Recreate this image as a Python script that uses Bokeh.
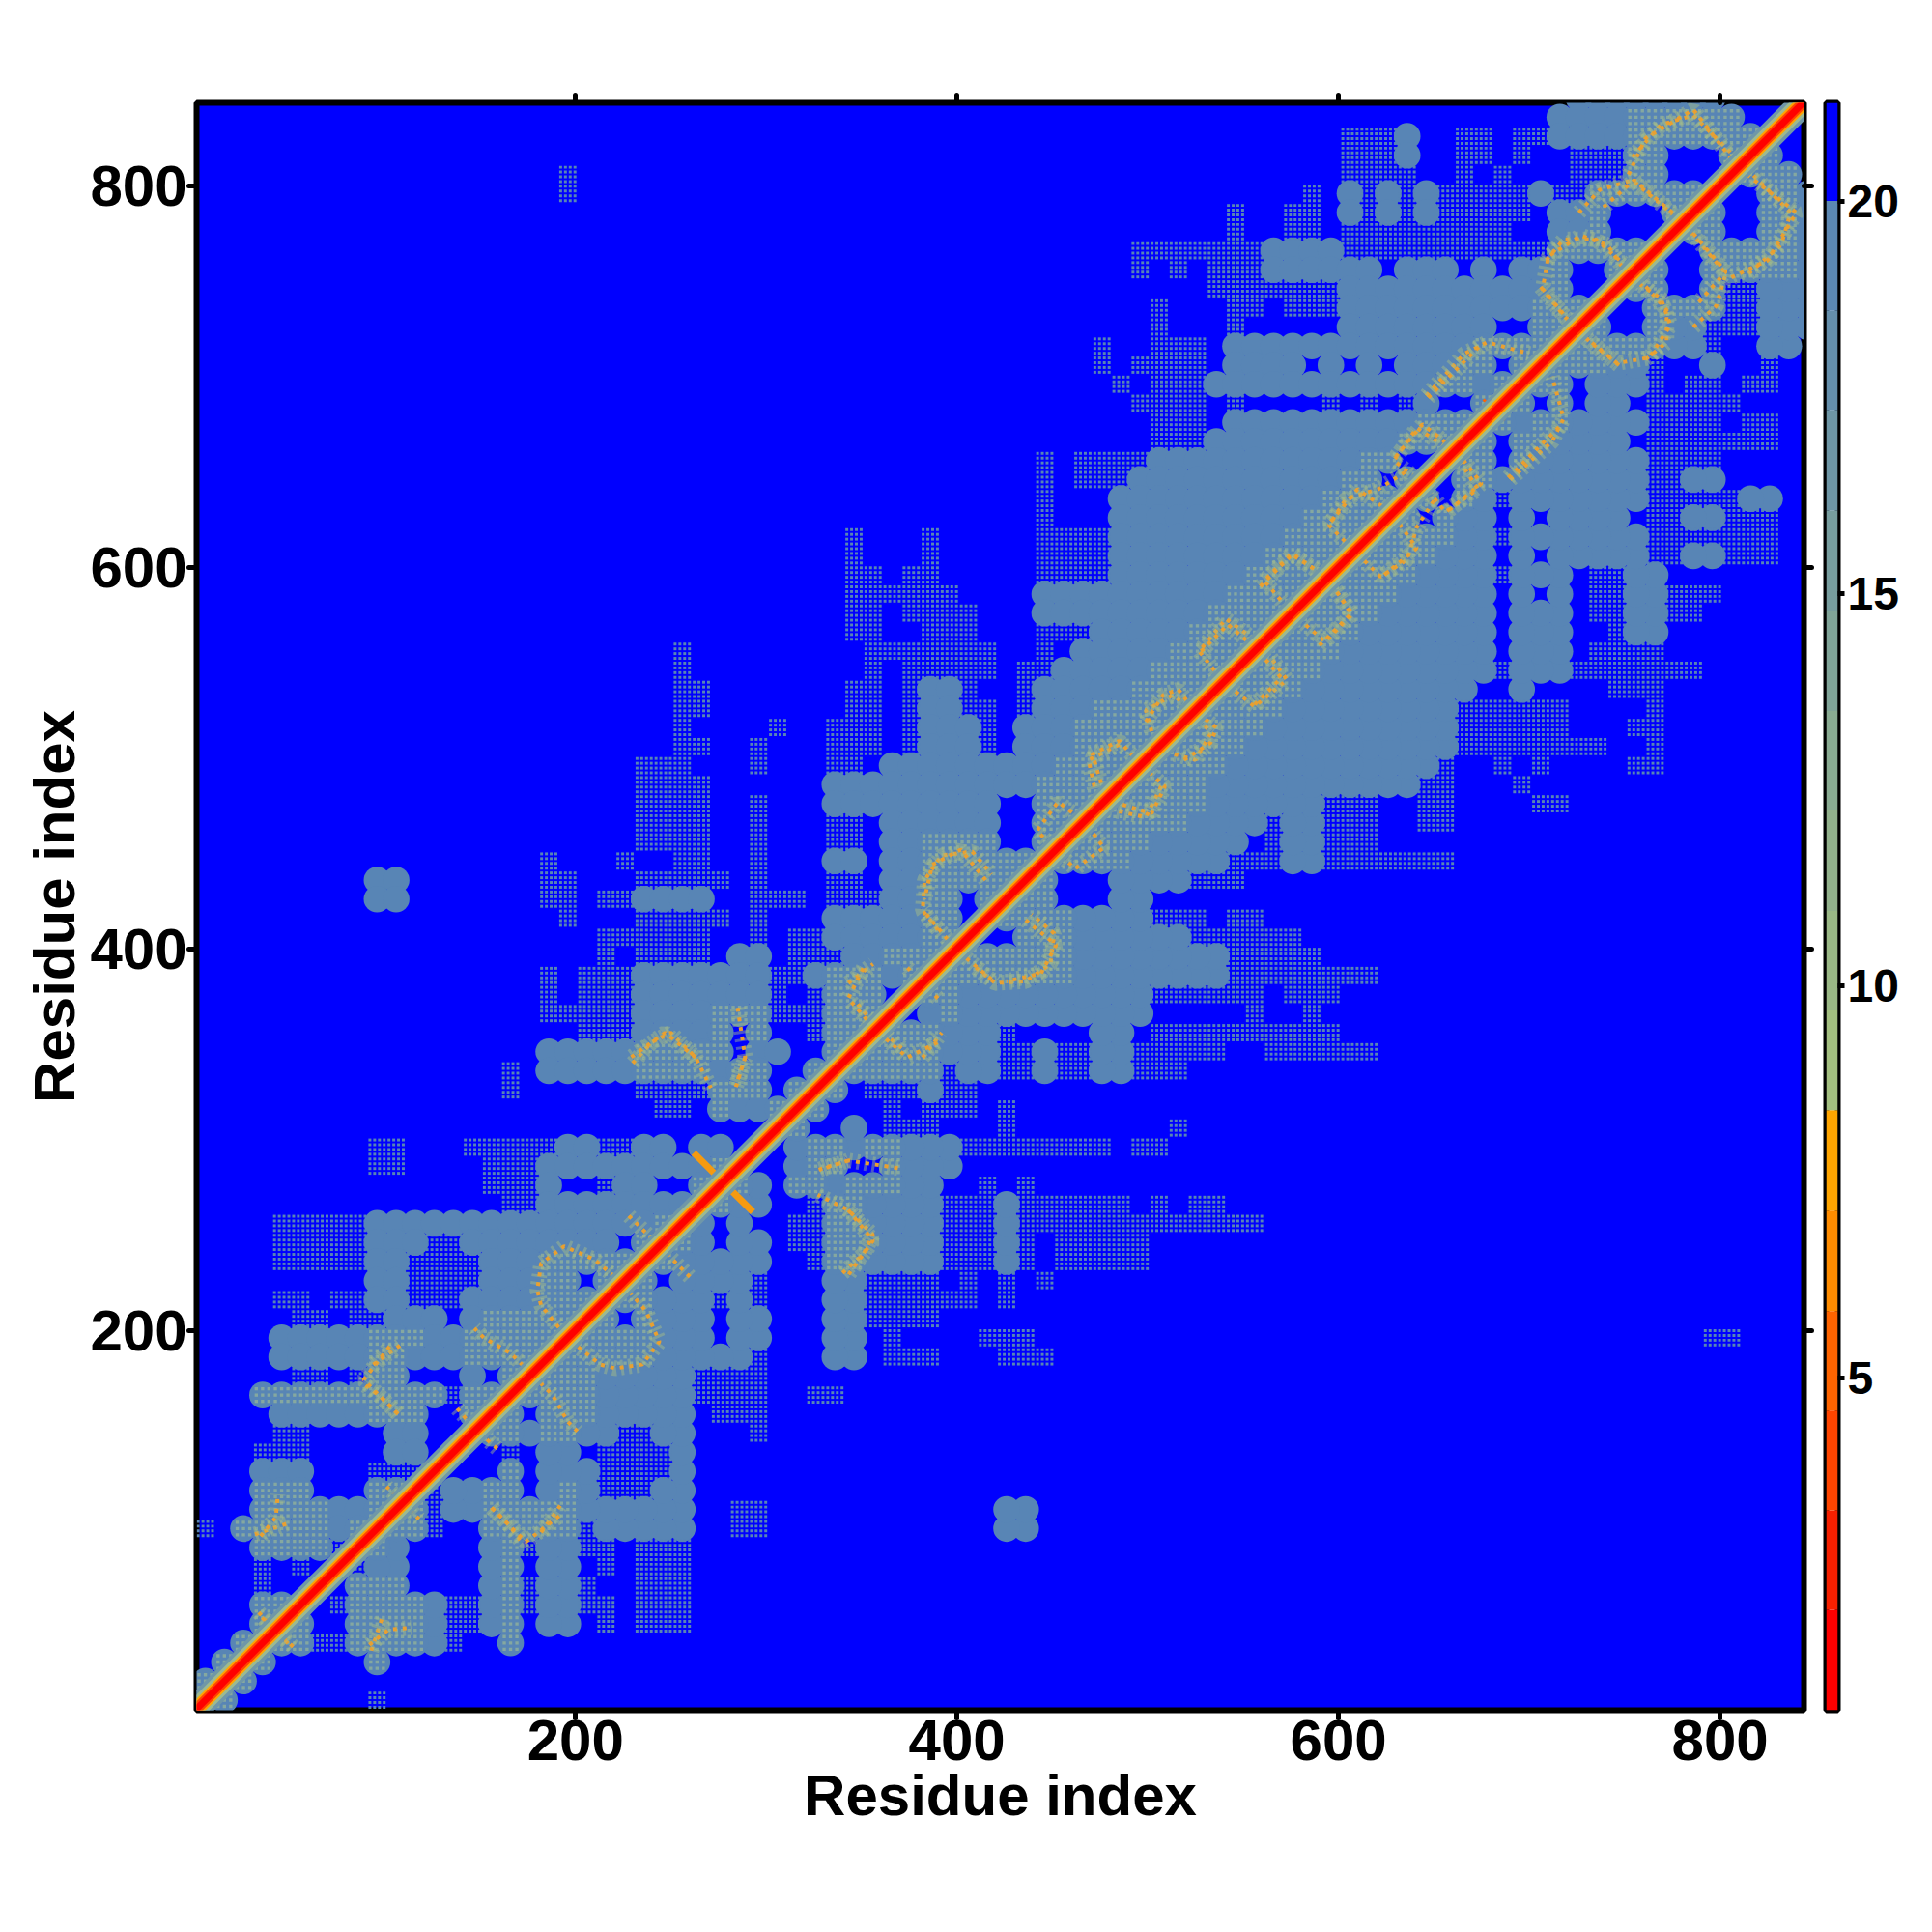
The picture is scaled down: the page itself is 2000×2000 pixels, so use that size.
from bokeh.plotting import figure
from bokeh.layouts import row
from bokeh.models import FixedTicker, LinearAxis, Range1d
from bokeh.embed import file_html
from bokeh.resources import INLINE

# contact map, upper-left triangle (row = y/10, col = x/10)
# s = below 20, d = partly below 20 (speckle), g = below about 14 (lattice)
contact_rows = {
84: "72-79s", 83: "71-74s 75-80g", 82: "60d 61-62d 63s 66-67d 69-70d 71-74s 75-81g",
81: "60d 61-62d 63s 66-67d 69d 72-74d 75-76g 80-81g",
80: "19d 60d 61-62d 63d 66d 68d 72-74d 75-76g 80g",
79: "19d 58d 60s 61d 62s 63d 64s 65-69d 70s 71-72d 73-79g",
78: "54d 57-58d 60s 61d 62s 63d 64s 65-69d 71-72s 73g 77-78g",
77: "54d 57-58d 60-64d 65-68d 71-72s 73g 77g",
76: "49-50d 51-52d 53-55d 56-59s 60-61d 62d 63-64d 65-67d 68-70d 71-76g",
75: "49d 51d 53-55d 56-61s 63-65s 67s 69-70s 71g 74-75g",
74: "53-55d 56-60d 60-61s 62-70s 71g 74g",
73: "50d 54-55d 57-59d 60-69s 70-73g",
72: "50d 54d 60-61s 62-67s 70-72g",
71: "47d 50-52d 54-70s 67-70g",
70: "47d 49d 50-52d 54-57s 59s 61s 63-65s 66-67g 69-70g",
69: "48d 50-52d 53-64s 65-66g 67s 68-69g",
68: "49-52d 54d 59d 61d 63d 64s 67-68g",
67: "50-52d 54-63s 64-67g",
66: "50-52d 53-62s 63-66g",
65: "44d 46-47d 48-49d 50-60s 61-62g 65g",
64: "44d 46-47d 48-49d 49-59s 60-61g 63-64g",
63: "44d 48-58s 59-63g",
62: "44d 48-57s 58-62g",
61: "34d 38d 44-45d 46-47d 48-56s 57-61g",
60: "34d 38d 44-45d 46-47d 48-55s 56-60g",
59: "34-35d 37-38d 44-45d 46-47d 48-54s 55-59g",
58: "34-35d 36-39d 44-45s 46-53s 54-58g",
57: "34-35d 37-40d 44-45s 46-52s 53-57g",
56: "34-35d 38-40d 44-45d 46-47d 47-51s 52-56g",
55: "25d 35-36d 37-41d 44d 46-50s 51-55g",
54: "25d 35d 37-41d 43-44d 45-49s 50-54g",
53: "25-26d 34-35d 37d 38-39s 40d 43-44d 44-48s 49-53g",
52: "25-26d 34-35d 37d 38-39s 40-41d 43-44d 44-46s 47-52g",
51: "25d 30d 33-35d 37d 38-40s 41d 43-45s 46-51g",
50: "25-26d 29d 33-35d 37d 38-40s 41d 43-45s 46-50g",
49: "23-24d 25d 29d 33-34d 36-42s 43-44s 45-49g",
48: "23-24d 25-26d 33-35s 36-42s 43s 44-48g",
47: "23-24d 25-26d 29d 33-35s 36-41s 44-47g",
46: "23-24d 25-26d 29d 33-34d 36-41s 44-46g",
45: "23-24d 25-26d 29d 33-34d 36-37s 38-41g 44-45g",
44: "18d 22d 25-26d 29d 33-34s 36-37s 38-44g",
43: "9-10s 18-19d 23-24d 25-27d 29d 33-34d 36-37s 38-43g",
42: "9-10s 18-19d 21-22d 23-26s 29d 30-31d 33-35d 36-37s 38-39g 41-42g",
41: "19d 23-24d 25-27d 29d 33-35s 36-37s 38-39g 41g",
40: "21-22d 23-24d 25-26d 29d 31-33d 33-35s 36-37s 38-40g",
39: "21d 23-24d 25-26d 28-29s 31-33d 34-35s 36-39g",
38: "18d 20-22d 23-27s 28-29s 30-31d 32-33s 33-35g 36s 37-38g",
37: "18d 20-22d 23-27s 28-29s 30d 32d 33-35g 37g",
36: "18-19d 20-22d 23-26s 27g 28-29g 30-33d 33-36g",
35: "20-22d 23-26s 27g 29g 32d 33-35g",
34: "18-19s 20-22s 23-27g 29-30s 33-34g",
33: "16d 18-19s 20-22s 23-26g 27s 28-29g 32-33g",
32: "16d 23-26d 27g 28-29g 31-32g",
31: "24-25d 27g 28-29s 30-31g",
30: "30g",
29: "9-10d 14-15d 16-18d 19-20s 21-22d 23-24s 26-27s",
28: "9-10d 15-18d 18-19s 20-23s 24-26s 27-28g",
27: "15-18d 18s 21-22d 22-23s 26-27g",
26: "16-17d 18-25s 26g",
25: "4-8d 9-16s 17-24s 24-25g",
24: "4-8d 9-11s 12-13d 14-21s 23-24g",
23: "4-8d 9-10s 11-14d 15-17s 18-23g",
22: "9-10s 11-14d 15-17s 18-19g 21-22g",
21: "4-5d 7-8d 9-10s 11-14d 14-17s 18-21g",
20: "5-6d 8-9d 10-12s 14s 15-20g",
19: "4-6s 7-8s 9-11g 12-14s 14-19g",
18: "4-6s 7-8s 9-10g 11-13s 14-18g",
17: "5-6d 8d 9-10g 14s 16-17g",
16: "3-6g 7-8g 9-12g 13d 14-16g",
15: "4-6s 7-8s 9-11g 14-15g",
14: "4-5d 10-11s 14g",
13: "3-5d 10-11s 13g",
12: "3-5s 9-11d 12g",
11: "3-5g 9-11g",
10: "3-6g 7-8s 9-10g",
9: "0d 2-6g 7-8s 8-9g",
8: "3-6g 7d 8g",
7: "3d 5d 7g",
6: "3d 6g",
5: "3-5g",
4: "3-4g",
3: "2-3g",
2: "1-2g",
1: "0-1g",
0: "0g",
}

# close-contact traces (residue i, residue j), each also holds mirrored
hot_paths = [
    [(228,260),(242,246)], [(224,225),(210,237),(194,244),(182,235),(180,221),(182,213),(194,198)],
    [(176,178),(166,188),(152,196),(147,201)], [(90,171),(98,165),(108,155)], [(94,182),(108,192)],
    [(156,107),(164,99),(174,89),(192,103)], [(138,159),(150,145)],
    [(32,93),(50,99)], [(92,35),(102,43),(114,44)], [(34,52),(50,35)], [(106,113),(118,101)],
    [(390,410),(382,420),(383,436),(392,449),(408,451),(418,439)],
    [(343,382),(356,392)], [(348,371),(356,361)], [(374,390),(382,382)],
    [(359,356),(374,343),(390,351)], [(436,415),(452,402),(444,387),(426,383)], [(405,395),(418,384)],
    [(230,340),(240,351),(250,356),(263,343),(271,327)], [(285,369),(289,343),(284,327)],
    [(343,263),(356,247),(343,229)], [(343,289),(328,284)],
    [(452,451),(442,462),(453,477),(465,468)], [(473,480),(469,499),(487,508)],
    [(482,477),(502,471),(509,485),(499,494)], [(502,514),(499,525),(513,533),(524,525)],
    [(519,499),(533,508),(536,516),(524,525)], [(538,542),(527,556),(541,573),(556,562)],
    [(556,528),(570,542),(558,556)], [(573,579),(561,593),(575,607),(592,596)],
    [(590,559),(607,576),(595,593)], [(607,610),(595,622),(604,636),(621,641),(635,650)],
    [(624,596),(641,610),(629,627)], [(644,644),(629,656),(641,673),(655,664)],
    [(658,630),(675,644),(664,658)], [(646,690),(666,712),(678,718),(700,712)],
    [(689,647),(717,675)], [(706,747),(718,732),(726,724)],
    [(709,761),(718,772),(735,772),(754,755)],
    [(729,721),(746,707),(763,710),(774,727),(769,741),(757,749)],
    [(726,786),(737,798),(754,803),(780,781)], [(786,775),(803,755),(788,738)],
    [(754,815),(769,832),(786,837),(808,815)], [(814,806),(840,786),(825,761),(806,752)],
]
cross_i = [262, 293]
cross_j = [293, 262]
small_cross_i = [[676, 687], [676, 687]]
small_cross_j = [[688, 677], [677, 688]]

residues = [1, 844]
x_ticks = [200, 400, 600, 800]
y_ticks = [200, 400, 600, 800]
cbar_ticks = [5, 10, 15, 20]
cbar_edges = [0.76, 2.04, 3.31, 4.58, 5.85, 7.13, 8.41, 9.68, 10.95, 12.23, 13.5, 14.78, 16.05, 17.33, 18.6, 20.0, 21.25]
cbar_colors = ["#FF0000", "#F62000", "#FF4500", "#FF6400", "#FF8C00", "#FFA500", "#A3BF80", "#9AB886", "#92B18C",
               "#89AB92", "#80A498", "#779D9E", "#6E96A5", "#658FAB", "#5C88B2", "#0000FF"]

BLUE = "#0000FF"
STEEL = "#5885B5"
GREEN = "#85A8A0"

cs = {}
for r, spec in contact_rows.items():
    for tok in spec.split():
        kind = tok[-1]
        body = tok[:-1]
        a, b = body.split("-") if "-" in body else (body, body)
        for c in range(int(a), int(b) + 1):
            cs[(c, r)] = kind
            cs[(r, c)] = kind

def centre(k):
    return k * 10 + 6

disc_x, disc_y, dot_x, dot_y, hot_x, hot_y = [], [], [], [], [], []
lattice_d = [-3.75, -1.25, 1.25, 3.75]
lattice_g = [-3.3, 0, 3.3]
for (c, r), kind in cs.items():
    cx, cy = centre(c), centre(r)
    if kind in "sg":
        disc_x.append(cx); disc_y.append(cy)
    if kind == "d":
        for dx in lattice_d:
            for dy in lattice_d:
                dot_x.append(cx + dx); dot_y.append(cy + dy)
    if kind == "g":
        for dx in lattice_g:
            for dy in lattice_g:
                hot_x.append(cx + dx); hot_y.append(cy + dy)

FW = 1664
p = figure(frame_width=FW, frame_height=FW, x_range=Range1d(1.4, 844), y_range=Range1d(0.7, 843.5),
           toolbar_location=None, output_backend="svg", background_fill_color=BLUE,
           min_border_left=203, min_border_top=106, min_border_bottom=130, min_border_right=13,
           x_axis_label="Residue index", y_axis_label="Residue index")
p.grid.visible = False
p.outline_line_color = "black"
p.outline_line_width = 6

p.circle(disc_x, disc_y, radius=7.0, radius_units="data", fill_color=STEEL, line_color=None)
p.rect(dot_x, dot_y, width=1.5, height=1.5, fill_color=STEEL, line_color=None)
p.rect(hot_x, hot_y, width=1.7, height=1.7, fill_color=GREEN, line_color=None)

for path in hot_paths:
    xs = [q[0] for q in path]; ys = [q[1] for q in path]
    for a, b in ((xs, ys), (ys, xs)):
        p.line(a, b, line_color="#A8BE85", line_width=16, line_dash="3 5", line_alpha=0.45)
        p.line(a, b, line_color="#E9A030", line_width=4, line_dash="4 6")
p.line(cross_i, cross_j, line_color="#F59A10", line_width=7)
p.multi_line(small_cross_i, small_cross_j, line_color="#FF6400", line_width=3)

for w, col in [(28, "#6F97A8"), (21, "#9DBA90"), (15, "#FFA500"), (11, "#FF4500"), (7, "#FF0000")]:
    p.line(residues, residues, line_color=col, line_width=w)

for ax in (p.xaxis[0], p.yaxis[0]):
    ax.ticker = FixedTicker(ticks=x_ticks)
    ax.major_tick_out = 8
    ax.major_tick_in = 0
    ax.minor_tick_line_color = None
    ax.major_tick_line_width = 5
    ax.major_tick_line_cap = "round"
    ax.axis_line_color = None
    ax.major_label_text_font = "Liberation Sans"
    ax.major_label_text_font_style = "bold"
    ax.major_label_text_font_size = "60px"
    ax.major_label_text_color = "black"
    ax.axis_label_text_font = "Liberation Sans"
    ax.axis_label_text_font_style = "bold"
    ax.axis_label_text_font_size = "60px"
    ax.axis_label_text_color = "black"
    ax.major_label_standoff = 2
    ax.axis_label_standoff = 0
p.yaxis[0].major_label_orientation = 0

for side in ("above", "right"):
    a = LinearAxis(ticker=FixedTicker(ticks=y_ticks), major_label_text_font_size="0px",
                   major_tick_out=8, major_tick_in=0, minor_tick_line_color=None, major_tick_line_width=5,
                   major_tick_line_cap="round", axis_line_color=None, major_label_text_color=None)
    p.add_layout(a, side)

cb = figure(frame_width=12, frame_height=FW, x_range=Range1d(0, 1), y_range=Range1d(cbar_edges[0], cbar_edges[-1]),
            toolbar_location=None, output_backend="svg", y_axis_location="right",
            min_border_left=10, min_border_top=106, min_border_bottom=130, min_border_right=10)
cb.grid.visible = False
cb.xaxis.visible = False
cb.outline_line_color = "black"
cb.outline_line_width = 6
cb.quad(left=0, right=1, bottom=cbar_edges[:-1], top=cbar_edges[1:], fill_color=cbar_colors, line_color=None)
ay = cb.yaxis[0]
ay.ticker = FixedTicker(ticks=cbar_ticks)
ay.major_tick_out = 7
ay.major_tick_in = 0
ay.minor_tick_line_color = None
ay.major_tick_line_width = 5
ay.axis_line_color = None
ay.major_label_text_font = "Liberation Sans"
ay.major_label_text_font_style = "bold"
ay.major_label_text_font_size = "48px"
ay.major_label_text_color = "black"
ay.major_label_standoff = 3

layout = row(p, cb)
open("out.html", "w").write(file_html(layout, INLINE))
